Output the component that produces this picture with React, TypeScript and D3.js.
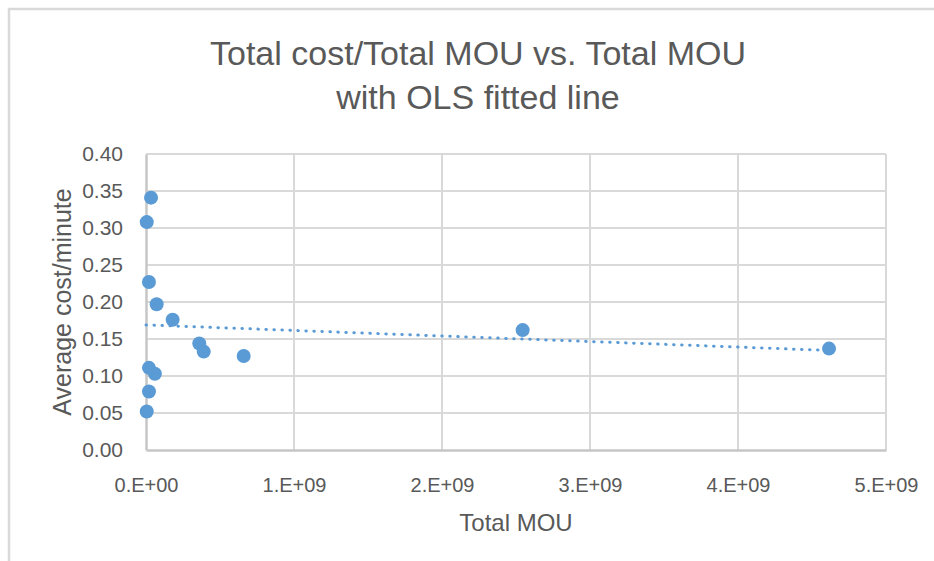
import React, { useEffect, useRef } from 'react';
import * as d3 from 'd3';

// Total MOU (minutes of use) per operator
const totalMou = [
  3.4e7, 0.5e7, 2.0e7, 7.2e7, 1.8e8, 3.6e8, 3.9e8, 6.6e8, 2.0e7, 6.0e7, 2.0e7, 0.5e7,
  2.545e9, 4.615e9,
];
// Average cost per minute
const avgCost = [
  0.341, 0.308, 0.227, 0.197, 0.176, 0.144, 0.133, 0.127, 0.111, 0.103, 0.079, 0.052,
  0.162, 0.137,
];
// OLS fitted line end points
const fitX = [0, 4.615e9];
const fitY = [0.169, 0.1345];

const xTicks = [0, 1e9, 2e9, 3e9, 4e9, 5e9];
const xTickLabels = ['0.E+00', '1.E+09', '2.E+09', '3.E+09', '4.E+09', '5.E+09'];
const yTicks = [0, 0.05, 0.1, 0.15, 0.2, 0.25, 0.3, 0.35, 0.4];

const W = 934;
const H = 561;

const App: React.FC = () => {
  const ref = useRef(null);

  useEffect(() => {
    if (!ref.current) return;
    const svg = d3.select(ref.current);
    svg.selectAll('*').remove();

    const font = '"Liberation Sans", Arial, sans-serif';
    const textColor = '#595959';
    const blue = '#5b9bd5';

    const margin = { top: 154, left: 146 };
    const width = 740;
    const height = 296;

    const x = d3.scaleLinear().domain([0, 5e9]).range([0, width]);
    const y = d3.scaleLinear().domain([0, 0.4]).range([height, 0]);

    svg.append('rect').attr('width', W).attr('height', H).attr('fill', 'white');

    // outer chart border (runs off the right and bottom edges)
    svg
      .append('rect')
      .attr('x', 9)
      .attr('y', 9)
      .attr('width', W + 10)
      .attr('height', H + 10)
      .attr('fill', 'white')
      .attr('stroke', '#d9d9d9')
      .attr('stroke-width', 2.5);

    // title
    const title = svg
      .append('text')
      .attr('text-anchor', 'middle')
      .attr('font-family', font)
      .attr('font-size', 34)
      .attr('fill', textColor);
    title.append('tspan').attr('x', 478).attr('y', 65).text('Total cost/Total MOU vs. Total MOU');
    title.append('tspan').attr('x', 478).attr('y', 109).text('with OLS fitted line');

    const chart = svg.append('g').attr('transform', `translate(${margin.left},${margin.top})`);

    // gridlines
    chart
      .append('g')
      .selectAll('line')
      .data(yTicks.slice(1))
      .enter()
      .append('line')
      .attr('x1', 0)
      .attr('x2', width)
      .attr('y1', (d) => y(d))
      .attr('y2', (d) => y(d))
      .attr('stroke', '#d9d9d9')
      .attr('stroke-width', 2);

    chart
      .append('g')
      .selectAll('line')
      .data(xTicks.slice(1))
      .enter()
      .append('line')
      .attr('x1', (d) => x(d))
      .attr('x2', (d) => x(d))
      .attr('y1', 0)
      .attr('y2', height)
      .attr('stroke', '#d9d9d9')
      .attr('stroke-width', 2);

    // axes
    const xAxis = chart
      .append('g')
      .attr('transform', `translate(0,${height})`)
      .call(
        d3
          .axisBottom(x)
          .tickValues(xTicks)
          .tickSize(0)
          .tickPadding(28)
          .tickFormat((d, i) => xTickLabels[i])
      );
    xAxis.select('.domain').attr('stroke', '#c6c6c6').attr('stroke-width', 2.5);
    xAxis
      .selectAll('text')
      .attr('font-family', font)
      .attr('font-size', 20)
      .attr('fill', textColor);

    const yAxis = chart.append('g').call(
      d3
        .axisLeft(y)
        .tickValues(yTicks)
        .tickSize(0)
        .tickPadding(23)
        .tickFormat(d3.format('.2f'))
    );
    yAxis.select('.domain').attr('stroke', '#c6c6c6').attr('stroke-width', 2.5);
    yAxis
      .selectAll('text')
      .attr('font-family', font)
      .attr('font-size', 21)
      .attr('fill', textColor);

    // axis titles
    svg
      .append('text')
      .attr('x', margin.left + width / 2)
      .attr('y', 531)
      .attr('text-anchor', 'middle')
      .attr('font-family', font)
      .attr('font-size', 24)
      .attr('fill', textColor)
      .text('Total MOU');

    svg
      .append('text')
      .attr('transform', `translate(71,${margin.top + height / 2}) rotate(-90)`)
      .attr('text-anchor', 'middle')
      .attr('font-family', font)
      .attr('font-size', 25)
      .attr('fill', textColor)
      .text('Average cost/minute');

    // fitted line
    const fit = fitX.map((d, i) => [d, fitY[i]] as [number, number]);
    chart
      .append('path')
      .datum(fit)
      .attr('d', d3.line().x((d) => x(d[0])).y((d) => y(d[1])))
      .attr('fill', 'none')
      .attr('stroke', blue)
      .attr('stroke-width', 3)
      .attr('stroke-linecap', 'round')
      .attr('stroke-dasharray', '0.5 7.5');

    // points
    chart
      .append('g')
      .selectAll('circle')
      .data(totalMou)
      .enter()
      .append('circle')
      .attr('cx', (d) => x(d))
      .attr('cy', (d, i) => y(avgCost[i]))
      .attr('r', 7)
      .attr('fill', blue);
  }, []);

  return (
    <svg
      ref={ref}
      width={W}
      height={H}
      style={{ position: 'absolute', left: 0, top: 0, display: 'block' }}
    ></svg>
  );
};

export default App;
